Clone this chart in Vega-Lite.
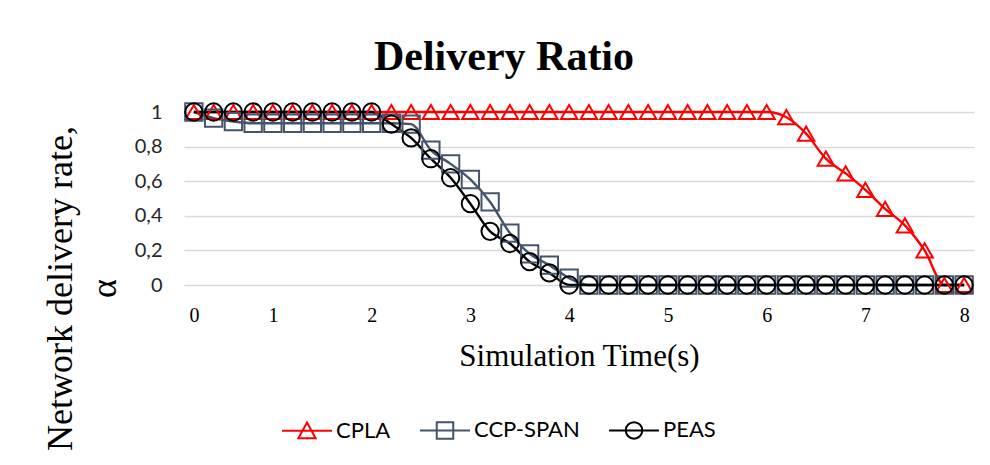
{
  "$schema": "https://vega.github.io/schema/vega-lite/v6.json",
  "width": 790,
  "height": 173,
  "autosize": {"type": "none"},
  "padding": {"left": 184, "top": 112, "right": 16, "bottom": 180},
  "background": "white",
  "title": {
    "text": "Delivery Ratio",
    "font": "Liberation Serif",
    "fontSize": 42,
    "fontWeight": "bold",
    "color": "#000000",
    "anchor": "middle",
    "dx": -75,
    "dy": 55,
    "baseline": "alphabetic",
    "offset": 42
  },
  "config": {
    "view": {"stroke": null},
    "axis": {"domain": false, "ticks": false}
  },
  "data": {
    "values": [
      {"t": 0.2, "series": "CPLA", "v": 1}, {"t": 0.4, "series": "CPLA", "v": 1}, {"t": 0.6, "series": "CPLA", "v": 1}, {"t": 0.8, "series": "CPLA", "v": 1},
      {"t": 1.0, "series": "CPLA", "v": 1}, {"t": 1.2, "series": "CPLA", "v": 1}, {"t": 1.4, "series": "CPLA", "v": 1}, {"t": 1.6, "series": "CPLA", "v": 1},
      {"t": 1.8, "series": "CPLA", "v": 1}, {"t": 2.0, "series": "CPLA", "v": 1}, {"t": 2.2, "series": "CPLA", "v": 1}, {"t": 2.4, "series": "CPLA", "v": 1},
      {"t": 2.6, "series": "CPLA", "v": 1}, {"t": 2.8, "series": "CPLA", "v": 1}, {"t": 3.0, "series": "CPLA", "v": 1}, {"t": 3.2, "series": "CPLA", "v": 1},
      {"t": 3.4, "series": "CPLA", "v": 1}, {"t": 3.6, "series": "CPLA", "v": 1}, {"t": 3.8, "series": "CPLA", "v": 1}, {"t": 4.0, "series": "CPLA", "v": 1},
      {"t": 4.2, "series": "CPLA", "v": 1}, {"t": 4.4, "series": "CPLA", "v": 1}, {"t": 4.6, "series": "CPLA", "v": 1}, {"t": 4.8, "series": "CPLA", "v": 1},
      {"t": 5.0, "series": "CPLA", "v": 1}, {"t": 5.2, "series": "CPLA", "v": 1}, {"t": 5.4, "series": "CPLA", "v": 1}, {"t": 5.6, "series": "CPLA", "v": 1},
      {"t": 5.8, "series": "CPLA", "v": 1}, {"t": 6.0, "series": "CPLA", "v": 1}, {"t": 6.2, "series": "CPLA", "v": 0.97}, {"t": 6.4, "series": "CPLA", "v": 0.875},
      {"t": 6.6, "series": "CPLA", "v": 0.73}, {"t": 6.8, "series": "CPLA", "v": 0.645}, {"t": 7.0, "series": "CPLA", "v": 0.55}, {"t": 7.2, "series": "CPLA", "v": 0.44},
      {"t": 7.4, "series": "CPLA", "v": 0.345}, {"t": 7.6, "series": "CPLA", "v": 0.2}, {"t": 7.8, "series": "CPLA", "v": 0}, {"t": 8.0, "series": "CPLA", "v": 0},

      {"t": 0.2, "series": "CCP-SPAN", "v": 1}, {"t": 0.4, "series": "CCP-SPAN", "v": 0.965}, {"t": 0.6, "series": "CCP-SPAN", "v": 0.945}, {"t": 0.8, "series": "CCP-SPAN", "v": 0.935},
      {"t": 1.0, "series": "CCP-SPAN", "v": 0.935}, {"t": 1.2, "series": "CCP-SPAN", "v": 0.935}, {"t": 1.4, "series": "CCP-SPAN", "v": 0.935}, {"t": 1.6, "series": "CCP-SPAN", "v": 0.935},
      {"t": 1.8, "series": "CCP-SPAN", "v": 0.935}, {"t": 2.0, "series": "CCP-SPAN", "v": 0.935}, {"t": 2.2, "series": "CCP-SPAN", "v": 0.935}, {"t": 2.4, "series": "CCP-SPAN", "v": 0.93},
      {"t": 2.6, "series": "CCP-SPAN", "v": 0.78}, {"t": 2.8, "series": "CCP-SPAN", "v": 0.7}, {"t": 3.0, "series": "CCP-SPAN", "v": 0.61}, {"t": 3.2, "series": "CCP-SPAN", "v": 0.48},
      {"t": 3.4, "series": "CCP-SPAN", "v": 0.3}, {"t": 3.6, "series": "CCP-SPAN", "v": 0.18}, {"t": 3.8, "series": "CCP-SPAN", "v": 0.115}, {"t": 4.0, "series": "CCP-SPAN", "v": 0.04},
      {"t": 4.2, "series": "CCP-SPAN", "v": 0}, {"t": 4.4, "series": "CCP-SPAN", "v": 0}, {"t": 4.6, "series": "CCP-SPAN", "v": 0}, {"t": 4.8, "series": "CCP-SPAN", "v": 0},
      {"t": 5.0, "series": "CCP-SPAN", "v": 0}, {"t": 5.2, "series": "CCP-SPAN", "v": 0}, {"t": 5.4, "series": "CCP-SPAN", "v": 0}, {"t": 5.6, "series": "CCP-SPAN", "v": 0},
      {"t": 5.8, "series": "CCP-SPAN", "v": 0}, {"t": 6.0, "series": "CCP-SPAN", "v": 0}, {"t": 6.2, "series": "CCP-SPAN", "v": 0}, {"t": 6.4, "series": "CCP-SPAN", "v": 0},
      {"t": 6.6, "series": "CCP-SPAN", "v": 0}, {"t": 6.8, "series": "CCP-SPAN", "v": 0}, {"t": 7.0, "series": "CCP-SPAN", "v": 0}, {"t": 7.2, "series": "CCP-SPAN", "v": 0},
      {"t": 7.4, "series": "CCP-SPAN", "v": 0}, {"t": 7.6, "series": "CCP-SPAN", "v": 0}, {"t": 7.8, "series": "CCP-SPAN", "v": 0}, {"t": 8.0, "series": "CCP-SPAN", "v": 0},

      {"t": 0.2, "series": "PEAS", "v": 1}, {"t": 0.4, "series": "PEAS", "v": 1}, {"t": 0.6, "series": "PEAS", "v": 1}, {"t": 0.8, "series": "PEAS", "v": 1},
      {"t": 1.0, "series": "PEAS", "v": 1}, {"t": 1.2, "series": "PEAS", "v": 1}, {"t": 1.4, "series": "PEAS", "v": 1}, {"t": 1.6, "series": "PEAS", "v": 1},
      {"t": 1.8, "series": "PEAS", "v": 1}, {"t": 2.0, "series": "PEAS", "v": 1}, {"t": 2.2, "series": "PEAS", "v": 0.93}, {"t": 2.4, "series": "PEAS", "v": 0.85},
      {"t": 2.6, "series": "PEAS", "v": 0.73}, {"t": 2.8, "series": "PEAS", "v": 0.62}, {"t": 3.0, "series": "PEAS", "v": 0.47}, {"t": 3.2, "series": "PEAS", "v": 0.31},
      {"t": 3.4, "series": "PEAS", "v": 0.24}, {"t": 3.6, "series": "PEAS", "v": 0.135}, {"t": 3.8, "series": "PEAS", "v": 0.07}, {"t": 4.0, "series": "PEAS", "v": 0},
      {"t": 4.2, "series": "PEAS", "v": 0}, {"t": 4.4, "series": "PEAS", "v": 0}, {"t": 4.6, "series": "PEAS", "v": 0}, {"t": 4.8, "series": "PEAS", "v": 0},
      {"t": 5.0, "series": "PEAS", "v": 0}, {"t": 5.2, "series": "PEAS", "v": 0}, {"t": 5.4, "series": "PEAS", "v": 0}, {"t": 5.6, "series": "PEAS", "v": 0},
      {"t": 5.8, "series": "PEAS", "v": 0}, {"t": 6.0, "series": "PEAS", "v": 0}, {"t": 6.2, "series": "PEAS", "v": 0}, {"t": 6.4, "series": "PEAS", "v": 0},
      {"t": 6.6, "series": "PEAS", "v": 0}, {"t": 6.8, "series": "PEAS", "v": 0}, {"t": 7.0, "series": "PEAS", "v": 0}, {"t": 7.2, "series": "PEAS", "v": 0},
      {"t": 7.4, "series": "PEAS", "v": 0}, {"t": 7.6, "series": "PEAS", "v": 0}, {"t": 7.8, "series": "PEAS", "v": 0}, {"t": 8.0, "series": "PEAS", "v": 0}
    ]
  },
  "encoding": {
    "x": {
      "field": "t",
      "type": "quantitative",
      "scale": {"domain": [0.1, 8.1], "nice": false, "zero": false},
      "axis": {
        "values": [0.2, 1, 2, 3, 4, 5, 6, 7, 8],
        "labelExpr": "datum.value < 0.5 ? '0' : datum.label",
        "grid": false,
        "labelFont": "Liberation Serif",
        "labelFontSize": 20,
        "labelColor": "#000000",
        "labelPadding": 20,
        "title": "Simulation Time(s)",
        "titleFont": "Liberation Serif",
        "titleFontSize": 31,
        "titleFontWeight": "normal",
        "titleColor": "#000000",
        "titleBaseline": "alphabetic",
        "titleY": 80
      }
    },
    "y": {
      "field": "v",
      "type": "quantitative",
      "scale": {"domain": [0, 1], "nice": false},
      "axis": {
        "values": [0, 0.2, 0.4, 0.6, 0.8, 1],
        "labelExpr": "replace(format(datum.value, '~g'), '.', ',')",
        "grid": true,
        "gridColor": "#d9d9d9",
        "gridWidth": 1.5,
        "labelFont": "Lato",
        "labelFontSize": 20,
        "labelColor": "#262626",
        "labelPadding": 22,
        "title": ["Network delivery rate,", "α"],
        "titleFont": "Liberation Serif",
        "titleFontSize": 36,
        "titleFontWeight": "normal",
        "titleColor": "#000000",
        "titleLineHeight": 44,
        "titleAngle": 270,
        "titleAlign": "center",
        "titleBaseline": "middle",
        "titleX": -124,
        "titleY": 176
      }
    },
    "color": {
      "field": "series",
      "type": "nominal",
      "sort": ["CPLA", "CCP-SPAN", "PEAS"],
      "scale": {"domain": ["CPLA", "CCP-SPAN", "PEAS"], "range": ["#ff0000", "#44546a", "#000000"]},
      "legend": {
        "orient": "none",
        "legendX": 90,
        "legendY": 307,
        "direction": "horizontal",
        "title": null,
        "labelFont": "Lato",
        "labelFontSize": 22,
        "labelColor": "#000000",
        "symbolSize": 225,
        "symbolStrokeWidth": 2,
        "symbolFillColor": "transparent",
        "symbolType": {"expr": "datum.value === 'CPLA' ? 'M-3.33,0H3.33M0,-1.1L1.15,1H-1.15Z' : datum.value === 'CCP-SPAN' ? 'M-3.33,0H3.33M-1.1,-1.1H1.1V1.1H-1.1Z' : 'M-3.33,0H3.33M-1.1,0A1.1,1.1,0,1,1,1.1,0A1.1,1.1,0,1,1,-1.1,0'"},
        "labelOffset": 18,
        "symbolOffset": 22,
        "columnPadding": 21
      }
    }
  },
  "layer": [
    {
      "mark": {"type": "line", "strokeWidth": 2.4, "interpolate": "monotone"}
    },
    {
      "transform": [{"filter": {"field": "series", "equal": "CPLA"}}],
      "mark": {"type": "point", "shape": "triangle-up", "filled": false, "strokeWidth": 2, "size": 270, "opacity": 1}
    },
    {
      "transform": [{"filter": {"field": "series", "equal": "CCP-SPAN"}}],
      "mark": {"type": "point", "shape": "square", "filled": false, "strokeWidth": 2, "size": 300, "opacity": 1}
    },
    {
      "transform": [{"filter": {"field": "series", "equal": "PEAS"}}],
      "mark": {"type": "point", "shape": "circle", "filled": false, "strokeWidth": 2, "size": 300, "opacity": 1}
    }
  ]
}
